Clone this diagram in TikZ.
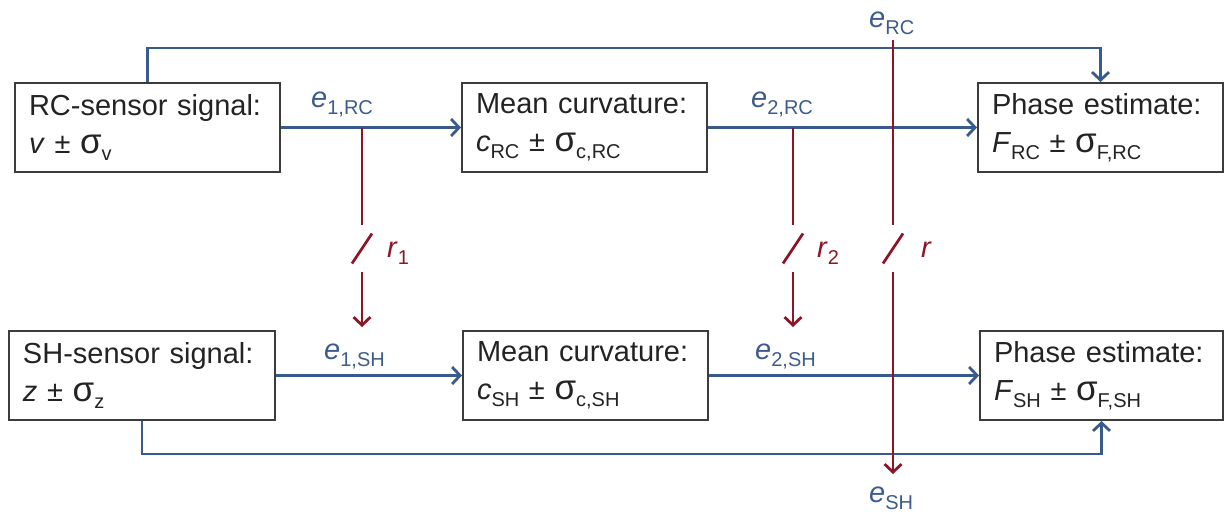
\documentclass[tikz,border=0pt]{standalone}
\usepackage{fontspec}
\setmainfont{Liberation Sans}
\usetikzlibrary{arrows.meta,calc}
\definecolor{bl}{RGB}{56,90,140}
\definecolor{bltxt}{RGB}{60,92,140}
\definecolor{rd}{RGB}{140,22,38}
\definecolor{bx}{RGB}{60,60,60}
\definecolor{tx}{RGB}{35,35,35}
\newcommand\sbx[1]{\raisebox{-7pt}{\fontsize{20}{20}\selectfont #1}}
\newcommand\sig{{\fontsize{35}{35}\selectfont σ}}
\begin{document}
\begin{tikzpicture}[x=1pt,y=-1pt,
  box/.style={draw=bx, line width=2pt, inner xsep=14pt, inner ysep=0pt,
    minimum height=89pt, align=left, text=tx, font=\fontsize{29}{38}\selectfont},
  bline/.style={draw=bl, line width=2.9pt},
  rline/.style={draw=rd, line width=2.9pt},
  tip/.style={-{Straight Barb[length=8pt,width=17pt,line width=2.8pt]}},
  elab/.style={anchor=base west, text=bltxt, inner sep=0pt, font=\fontsize{29}{29}\selectfont},
  rlab/.style={anchor=base west, text=rd, inner sep=0pt, font=\fontsize{29}{29}\selectfont}]
\useasboundingbox (0,0) rectangle (1225,520);
% boxes
\node[box, text width=237pt] (rc) at (147.5,127.5) {RC-sensor signal:\\\textit{v} ± \sig\sbx{v}};
\node[box, text width=217pt] (mcrc) at (584.5,127.5) {Mean curvature:\\\textit{c}\sbx{RC} ± \sig\sbx{c,RC}};
\node[box, text width=217pt] (phrc) at (1100.5,127.5) {Phase estimate:\\\textit{F}\sbx{RC} ± \sig\sbx{F,RC}};
\node[box, text width=238pt] (sh) at (142,375.5) {SH-sensor signal:\\\textit{z} ± \sig\sbx{z}};
\node[box, text width=217pt] (mcsh) at (585.5,375.5) {Mean curvature:\\\textit{c}\sbx{SH} ± \sig\sbx{c,SH}};
\node[box, text width=215pt] (phsh) at (1101.5,375.5) {Phase estimate:\\\textit{F}\sbx{SH} ± \sig\sbx{F,SH}};
% labels
\node[elab] (e1rc) at (311,107) {\textit{e}\sbx{1,RC}};
\node[elab] (e2rc) at (751,107) {\textit{e}\sbx{2,RC}};
\node[elab] (erc) at (869,27) {\textit{e}\sbx{RC}};
\node[elab] (e1sh) at (324,359) {\textit{e}\sbx{1,SH}};
\node[elab] (e2sh) at (755,359) {\textit{e}\sbx{2,SH}};
\node[elab] (esh) at (869,502) {\textit{e}\sbx{SH}};
\node[rlab] (r1) at (387,257) {\textit{r}\sbx{1}};
\node[rlab] (r2) at (817,257) {\textit{r}\sbx{2}};
\node[rlab] (rr) at (921,257) {\textit{r}};
% blue connectors
\draw[bline,tip] (rc.east) -- (mcrc.west);
\draw[bline,tip] (mcrc.east) -- (phrc.west);
\draw[bline,tip] (sh.east) -- (mcsh.west);
\draw[bline,tip] (mcsh.east) -- (phsh.west);
\draw[bline,tip] (rc.north) -- ++(0,-34) -| (phrc.north);
\draw[bline,tip] (sh.south) -- ++(0,33) -| (phsh.south);
% red connectors
\coordinate (a1) at (362,127.5); \coordinate (b1) at (362,225);
\coordinate (c1) at (362,272);   \coordinate (d1) at (362,327);
\coordinate (a2) at (793,127.5); \coordinate (b2) at (793,225);
\coordinate (c2) at (793,272);   \coordinate (d2) at (793,327);
\coordinate (a3) at (893,40);    \coordinate (b3) at (893,225);
\coordinate (c3) at (893,272);   \coordinate (d3) at (893,474);
\foreach \i in {1,2,3}{
  \draw[rline] (a\i) -- (b\i);
  \draw[rline,tip] (c\i) -- (d\i);
  \draw[rline,line width=2.7pt] ($(b\i)!0.5!(c\i)+(-10,15)$) -- ++(20,-30);
}
\end{tikzpicture}
\end{document}
